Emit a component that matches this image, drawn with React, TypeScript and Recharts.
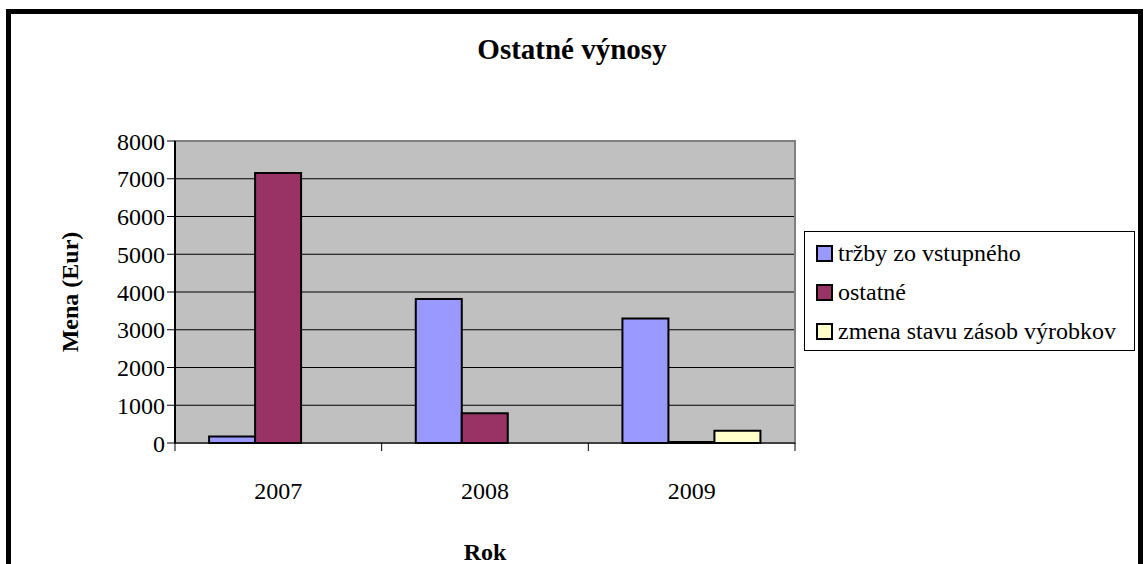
import React from 'react';
import { BarChart, Bar, XAxis, YAxis, CartesianGrid, Legend, ReferenceArea, Label } from 'recharts';

const categories = ['2007', '2008', '2009'];
const trzby = [175, 3815, 3300];
const ostatne = [7150, 790, 25];
const zmena = [0, 0, 325];
const yTicks = [0, 1000, 2000, 3000, 4000, 5000, 6000, 7000, 8000];
const seriesNames = ['tržby zo vstupného', 'ostatné', 'zmena stavu zásob výrobkov'];
const seriesColors = ['#9999FF', '#993366', '#FFFFCC'];

const data = categories.map((c, i) => ({ rok: c, trzby: trzby[i], ostatne: ostatne[i], zmena: zmena[i] }));

const FONT = '"Liberation Serif", "Times New Roman", serif';
const PLOT_LEFT = 175;
const PLOT_RIGHT = 795;
const PLOT_TOP = 141;
const PLOT_BOTTOM = 443;
const W = 1144;
const H = 564;
const YAXIS_W = 70;
const XAXIS_H = 40;

const XTick = (props: any) => {
  const { x, y, payload, index } = props;
  const band = (PLOT_RIGHT - PLOT_LEFT) / categories.length;
  const half = band / 2;
  return (
    <g>
      <line x1={x - half} y1={PLOT_BOTTOM} x2={x - half} y2={PLOT_BOTTOM + 8} stroke="#000" strokeWidth={1} />
      {index === categories.length - 1 && (
        <line x1={x + half} y1={PLOT_BOTTOM} x2={x + half} y2={PLOT_BOTTOM + 8} stroke="#000" strokeWidth={1} />
      )}
      <text x={x} y={y + 48} textAnchor="middle" fontFamily={FONT} fontSize={24} fill="#000">
        {payload.value}
      </text>
    </g>
  );
};

const LegendContent = () => (
  <div
    style={{
      width: 331,
      height: 120,
      border: '1px solid #000',
      boxSizing: 'border-box',
      background: '#fff',
      fontFamily: FONT,
      fontSize: 24,
      color: '#000',
      paddingTop: 2,
    }}
  >
    {seriesNames.map((n, i) => (
      <div key={n} style={{ display: 'flex', alignItems: 'center', height: 39, paddingLeft: 11 }}>
        <span
          style={{
            display: 'inline-block',
            width: 13,
            height: 13,
            border: '2px solid #000',
            background: seriesColors[i],
            marginRight: 5,
          }}
        />
        <span style={{ whiteSpace: 'nowrap' }}>{n}</span>
      </div>
    ))}
  </div>
);

export default function App() {
  return (
    <div style={{ position: 'absolute', left: 0, top: 0, width: W, height: H, overflow: 'hidden', background: '#fff' }}>
      <div
        style={{
          position: 'absolute',
          left: 6,
          top: 9,
          width: 1137,
          height: 640,
          border: '5px solid #000',
          boxSizing: 'border-box',
        }}
      />
      <div style={{ position: 'absolute', left: 0, top: 0 }}>
        <BarChart
          width={W}
          height={H}
          data={data}
          margin={{ top: PLOT_TOP, left: PLOT_LEFT - YAXIS_W, right: W - PLOT_RIGHT, bottom: H - PLOT_BOTTOM - XAXIS_H }}
          barCategoryGap="16.5%"
          barGap={0}
        >
          <text x={572} y={59} textAnchor="middle" fontFamily={FONT} fontSize={29} fontWeight="bold" fill="#000">
            Ostatné výnosy
          </text>
          <CartesianGrid horizontal vertical={false} stroke="#000" strokeWidth={1} fill="#C0C0C0" fillOpacity={1} />
          <ReferenceArea y1={0} y2={8000} fill="none" stroke="#808080" strokeWidth={2} ifOverflow="extendDomain" />
          <XAxis
            dataKey="rok"
            height={XAXIS_H}
            axisLine={{ stroke: '#000', strokeWidth: 1 }}
            tickLine={false}
            tick={<XTick />}
            interval={0}
          >
            <Label
              value="Rok"
              position="insideBottom"
              offset={-77}
              style={{ fontFamily: FONT, fontSize: 24, fontWeight: 'bold', fill: '#000' }}
            />
          </XAxis>
          <YAxis
            width={YAXIS_W}
            domain={[0, 8000]}
            ticks={yTicks}
            interval={0}
            axisLine={{ stroke: '#000', strokeWidth: 2 }}
            tickLine={{ stroke: '#000' }}
            tickSize={8}
            tick={{ fontFamily: FONT, fontSize: 24, fill: '#000' }}
          >
            <Label
              value="Mena (Eur)"
              angle={-90}
              position="left"
              offset={36}
              style={{ fontFamily: FONT, fontSize: 24, fontWeight: 'bold', fill: '#000', textAnchor: 'middle' }}
            />
          </YAxis>
          <Legend
            layout="horizontal"
            verticalAlign="middle"
            align="center"
            content={<LegendContent />}
            wrapperStyle={{ left: 804, top: 231, width: 331, height: 120 }}
          />
          <Bar dataKey="trzby" name={seriesNames[0]} fill={seriesColors[0]} stroke="#000" strokeWidth={2} isAnimationActive={false} />
          <Bar dataKey="ostatne" name={seriesNames[1]} fill={seriesColors[1]} stroke="#000" strokeWidth={2} isAnimationActive={false} />
          <Bar dataKey="zmena" name={seriesNames[2]} fill={seriesColors[2]} stroke="#000" strokeWidth={2} isAnimationActive={false} />
        </BarChart>
      </div>
    </div>
  );
}
